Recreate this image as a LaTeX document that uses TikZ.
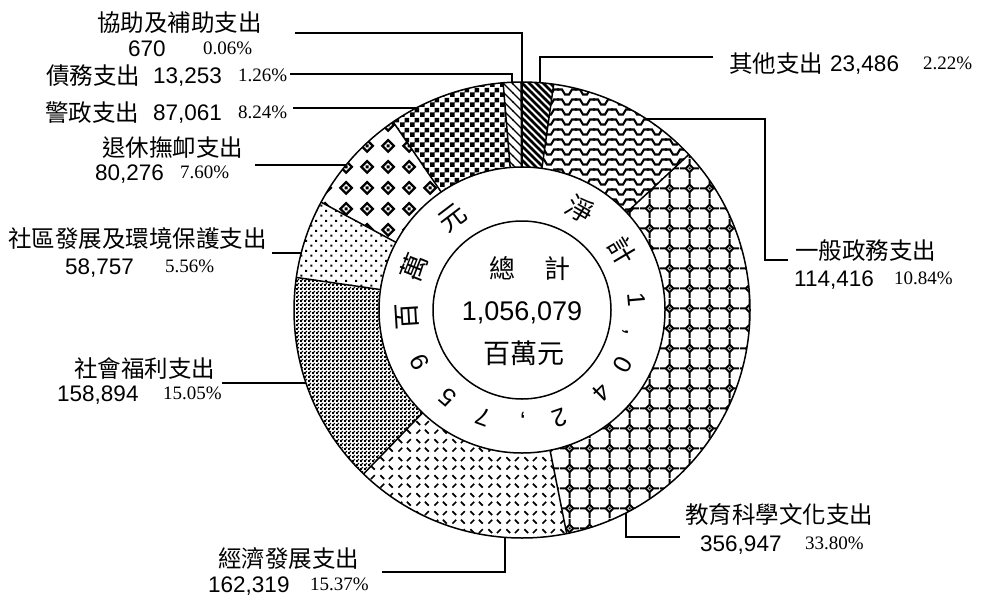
\documentclass[tikz,border=0pt]{standalone}
\usepackage{fontspec}
\setmainfont{Liberation Sans}
\newfontfamily\cjk{Noto Sans CJK TC}
\newfontfamily\tnr{Liberation Serif}
\usetikzlibrary{patterns}

% thick "\" stripes
\pgfdeclarepatternformonly{qthick}{\pgfqpoint{-1pt}{-1pt}}{\pgfqpoint{8pt}{8pt}}{\pgfqpoint{7pt}{7pt}}{%
  \pgfsetlinewidth{2.8pt}%
  \pgfpathmoveto{\pgfqpoint{-0.5pt}{7.5pt}}\pgfpathlineto{\pgfqpoint{7.5pt}{-0.5pt}}\pgfusepath{stroke}}
% thin "\" lines
\pgfdeclarepatternformonly{qthin}{\pgfqpoint{-1pt}{-1pt}}{\pgfqpoint{10pt}{10pt}}{\pgfqpoint{9pt}{9pt}}{%
  \pgfsetlinewidth{1.2pt}%
  \pgfpathmoveto{\pgfqpoint{-0.5pt}{9.5pt}}\pgfpathlineto{\pgfqpoint{9.5pt}{-0.5pt}}\pgfusepath{stroke}}
% wave
\pgfdeclarepatternformonly{qwave}{\pgfqpoint{-1pt}{0pt}}{\pgfqpoint{19pt}{10pt}}{\pgfqpoint{18pt}{10pt}}{%
  \pgfsetlinewidth{2.1pt}%
  \pgfpathmoveto{\pgfqpoint{-1pt}{7.5pt}}\pgfpathlineto{\pgfqpoint{4pt}{7.5pt}}%
  \pgfpathlineto{\pgfqpoint{7pt}{2.5pt}}\pgfpathlineto{\pgfqpoint{11pt}{2.5pt}}%
  \pgfpathlineto{\pgfqpoint{14pt}{7.5pt}}\pgfpathlineto{\pgfqpoint{19pt}{7.5pt}}\pgfusepath{stroke}}
% octagons with diamonds
\pgfdeclarepatternformonly{qhex}{\pgfqpoint{0pt}{0pt}}{\pgfqpoint{20pt}{20pt}}{\pgfqpoint{20pt}{20pt}}{%
  \pgfsetlinewidth{2pt}%
  \pgfpathmoveto{\pgfqpoint{14pt}{10pt}}\pgfpathlineto{\pgfqpoint{10pt}{14pt}}%
  \pgfpathlineto{\pgfqpoint{6pt}{10pt}}\pgfpathlineto{\pgfqpoint{10pt}{6pt}}\pgfpathclose
  \pgfpathmoveto{\pgfqpoint{0pt}{10pt}}\pgfpathlineto{\pgfqpoint{6pt}{10pt}}%
  \pgfpathmoveto{\pgfqpoint{14pt}{10pt}}\pgfpathlineto{\pgfqpoint{20pt}{10pt}}%
  \pgfpathmoveto{\pgfqpoint{10pt}{0pt}}\pgfpathlineto{\pgfqpoint{10pt}{6pt}}%
  \pgfpathmoveto{\pgfqpoint{10pt}{14pt}}\pgfpathlineto{\pgfqpoint{10pt}{20pt}}%
  \pgfusepath{stroke}%
  \pgfpathrectangle{\pgfqpoint{9pt}{9pt}}{\pgfqpoint{2pt}{2pt}}\pgfusepath{fill}}
% small dashes
\pgfdeclarepatternformonly{qdash}{\pgfqpoint{0pt}{0pt}}{\pgfqpoint{18pt}{18pt}}{\pgfqpoint{18pt}{18pt}}{%
  \pgfsetlinewidth{1.8pt}%
  \pgfpathmoveto{\pgfqpoint{2.5pt}{15.5pt}}\pgfpathlineto{\pgfqpoint{6.5pt}{11.5pt}}%
  \pgfpathmoveto{\pgfqpoint{11.5pt}{11.5pt}}\pgfpathlineto{\pgfqpoint{15.5pt}{15.5pt}}%
  \pgfpathmoveto{\pgfqpoint{2.5pt}{2.5pt}}\pgfpathlineto{\pgfqpoint{6.5pt}{6.5pt}}%
  \pgfpathmoveto{\pgfqpoint{11.5pt}{6.5pt}}\pgfpathlineto{\pgfqpoint{15.5pt}{2.5pt}}%
  \pgfusepath{stroke}}
% fine checks
\pgfdeclarepatternformonly{qfine}{\pgfqpoint{0pt}{0pt}}{\pgfqpoint{4pt}{4pt}}{\pgfqpoint{4pt}{4pt}}{%
  \pgfpathrectangle{\pgfqpoint{0pt}{0pt}}{\pgfqpoint{2.4pt}{2.4pt}}%
  \pgfpathrectangle{\pgfqpoint{2pt}{2pt}}{\pgfqpoint{2pt}{2pt}}\pgfusepath{fill}}
% dots
\pgfdeclarepatternformonly{qdots}{\pgfqpoint{0pt}{0pt}}{\pgfqpoint{10pt}{10pt}}{\pgfqpoint{10pt}{10pt}}{%
  \pgfpathrectangle{\pgfqpoint{0.5pt}{0.5pt}}{\pgfqpoint{2.2pt}{2.2pt}}%
  \pgfpathrectangle{\pgfqpoint{5.5pt}{5.5pt}}{\pgfqpoint{2.2pt}{2.2pt}}\pgfusepath{fill}}
% diamonds
\pgfdeclarepatternformonly{qdiam}{\pgfqpoint{0pt}{0pt}}{\pgfqpoint{21pt}{21pt}}{\pgfqpoint{21pt}{21pt}}{%
  \pgfsetlinewidth{2.4pt}%
  \pgfpathmoveto{\pgfqpoint{16.5pt}{10.5pt}}\pgfpathlineto{\pgfqpoint{10.5pt}{16.5pt}}%
  \pgfpathlineto{\pgfqpoint{4.5pt}{10.5pt}}\pgfpathlineto{\pgfqpoint{10.5pt}{4.5pt}}\pgfpathclose
  \pgfusepath{stroke}%
  \pgfpathrectangle{\pgfqpoint{9pt}{9pt}}{\pgfqpoint{3pt}{3pt}}\pgfusepath{fill}}
% checker squares
\pgfdeclarepatternformonly{qchk}{\pgfqpoint{0pt}{0pt}}{\pgfqpoint{10pt}{10pt}}{\pgfqpoint{10pt}{10pt}}{%
  \pgfpathrectangle{\pgfqpoint{0pt}{0pt}}{\pgfqpoint{5pt}{5pt}}%
  \pgfpathrectangle{\pgfqpoint{5pt}{5pt}}{\pgfqpoint{5pt}{5pt}}\pgfusepath{fill}}

\newcommand\qslice[3]{\path[pattern=#3] (#1:143) -- (#1:228) arc[start angle=#1,end angle=#2,radius=228] -- (#2:143) arc[start angle=#2,end angle=#1,radius=143] -- cycle;}
\newcommand\ringcjk{\cjk\fontsize{27}{27}\selectfont}
\newcommand\ringdig{\fontsize{25}{25}\selectfont}

\begin{document}
\begin{tikzpicture}[x=1pt,y=-1pt,
  lead/.style={line width=1.4pt},
  edge/.style={line width=1.5pt},
  cjklab/.style={font=\cjk\fontsize{23.5}{26}\selectfont, inner sep=0pt, anchor=base west},
  numlab/.style={font=\fontsize{22.5}{25}\selectfont, inner sep=0pt, anchor=base west},
  pctlab/.style={font=\tnr\fontsize{19}{21}\selectfont, inner sep=0pt, anchor=base west},
  ringch/.style={inner sep=0pt, text height=18pt, text depth=0pt},
  midtxt/.style={inner sep=0pt, anchor=base},
]
\fill[white] (0,0) rectangle (984,597);
\useasboundingbox (0,0) rectangle (984,597);

\begin{scope}[shift={(522,310)}]
  \qslice{-90}{-82.008}{qthick}
  \qslice{-82.008}{-42.984}{qwave}
  \qslice{-42.984}{78.696}{qhex}
  \qslice{78.696}{134.028}{qdash}
  \qslice{134.028}{188.208}{qfine}
  \qslice{188.208}{208.224}{qdots}
  \qslice{208.224}{235.584}{qdiam}
  \qslice{235.584}{265.248}{qchk}
  \qslice{265.248}{269.784}{qthin}
  \foreach \a in {-90,-82.008,-42.984,78.696,134.028,188.208,208.224,235.584,265.248,269.784}
    \draw[edge] (\a:143) -- (\a:228);
  \draw[edge] (0,0) circle[radius=228];
  \draw[edge] (0,0) circle[radius=143];
  \draw[edge] (0,0) circle[radius=89];
  \foreach \ch/\ang [count=\i] in {{\ringcjk 淨}/30,{\ringcjk 計}/59.4,{\ringdig 1}/85,{\ringdig ,}/102,{\ringdig 0}/118.5,{\ringdig 4}/136,{\ringdig 2}/161,{\ringdig ,}/179.5,{\ringdig 7}/200,{\ringdig 5}/220.5,{\ringdig 9}/243,{\ringcjk 百}/266.5,{\ringcjk 萬}/291.5,{\ringcjk 元}/322.7}
    \node[ringch, rotate=-\ang] (rc\i) at ({\ang-90}:115) {\ch};
\end{scope}

% centre
\node[midtxt, font=\cjk\fontsize{26}{28}\selectfont] (tz1) at (502,278) {總};
\node[midtxt, font=\cjk\fontsize{26}{28}\selectfont] (tz2) at (557,278) {計};
\node[midtxt, font=\fontsize{27}{30}\selectfont] (tnum) at (522,320) {1,056,079};
\node[midtxt, font=\cjk\fontsize{27}{30}\selectfont] (tunit) at (524,363) {百萬元};

% labels
\node[cjklab] (l1a) at (97,31) {協助及補助支出};
\node[numlab] (l1b) at (128,56) {670};
\node[pctlab] (l1c) at (203,54) {0.06\%};

\node[cjklab] (l2a) at (46,84) {債務支出};
\node[numlab] (l2b) at (153,83) {13,253};
\node[pctlab] (l2c) at (238,81.5) {1.26\%};

\node[cjklab] (l3a) at (45,121) {警政支出};
\node[numlab] (l3b) at (153,120) {87,061};
\node[pctlab] (l3c) at (238,118.5) {8.24\%};

\node[cjklab] (l4a) at (102,156) {退休撫卹支出};
\node[numlab] (l4b) at (95,180) {80,276};
\node[pctlab] (l4c) at (180,178.5) {7.60\%};

\node[cjklab] (l5a) at (8,247) {社區發展及環境保護支出};
\node[numlab] (l5b) at (65,274) {58,757};
\node[pctlab] (l5c) at (165,272.5) {5.56\%};

\node[cjklab] (l6a) at (74,377) {社會福利支出};
\node[numlab] (l6b) at (57,401) {158,894};
\node[pctlab] (l6c) at (163,399.5) {15.05\%};

\node[cjklab] (l7a) at (218,567) {經濟發展支出};
\node[numlab] (l7b) at (208,592) {162,319};
\node[pctlab] (l7c) at (310,590.5) {15.37\%};

\node[cjklab] (l8a) at (685,523) {教育科學文化支出};
\node[numlab] (l8b) at (700,551) {356,947};
\node[pctlab] (l8c) at (805,549.5) {33.80\%};

\node[cjklab] (l9a) at (795,259) {一般政務支出};
\node[numlab] (l9b) at (794,286) {114,416};
\node[pctlab] (l9c) at (894,284.5) {10.84\%};

\node[cjklab] (l10a) at (729,72) {其他支出};
\node[numlab] (l10b) at (830,71) {23,486};
\node[pctlab] (l10c) at (923,69.5) {2.22\%};

% leader lines
\coordinate (p1s) at (295,33); \coordinate (p1e) at (522,33); \coordinate (p1r) at (522,82.5);
\draw[lead] (p1s) -- (p1e) -- (p1r);
\coordinate (p2s) at (290,74); \coordinate (p2e) at (512,74); \coordinate (p2r) at (512,82.5);
\draw[lead] (p2s) -- (p2e) -- (p2r);
\coordinate (p3s) at (293,108); \coordinate (p3r) at (416,108);
\draw[lead] (p3s) -- (p3r);
\coordinate (p4s) at (255,165); \coordinate (p4r) at (346,165);
\draw[lead] (p4s) -- (p4r);
\coordinate (p5s) at (272,253); \coordinate (p5r) at (301,253);
\draw[lead] (p5s) -- (p5r);
\coordinate (p6s) at (222,383); \coordinate (p6r) at (306,383);
\draw[lead] (p6s) -- (p6r);
\coordinate (p7s) at (382,572); \coordinate (p7e) at (505,572); \coordinate (p7r) at (505,537.5);
\draw[lead] (p7s) -- (p7e) -- (p7r);
\coordinate (p8s) at (680,537); \coordinate (p8e) at (626,537); \coordinate (p8r) at (626,513);
\draw[lead] (p8s) -- (p8e) -- (p8r);
\coordinate (p9s) at (788,260); \coordinate (p9e) at (765,260); \coordinate (p9f) at (765,119); \coordinate (p9r) at (646,119);
\draw[lead] (p9s) -- (p9e) -- (p9f) -- (p9r);
\coordinate (p10s) at (713,57); \coordinate (p10e) at (540,57); \coordinate (p10r) at (540,83);
\draw[lead] (p10s) -- (p10e) -- (p10r);
\end{tikzpicture}
\end{document}
